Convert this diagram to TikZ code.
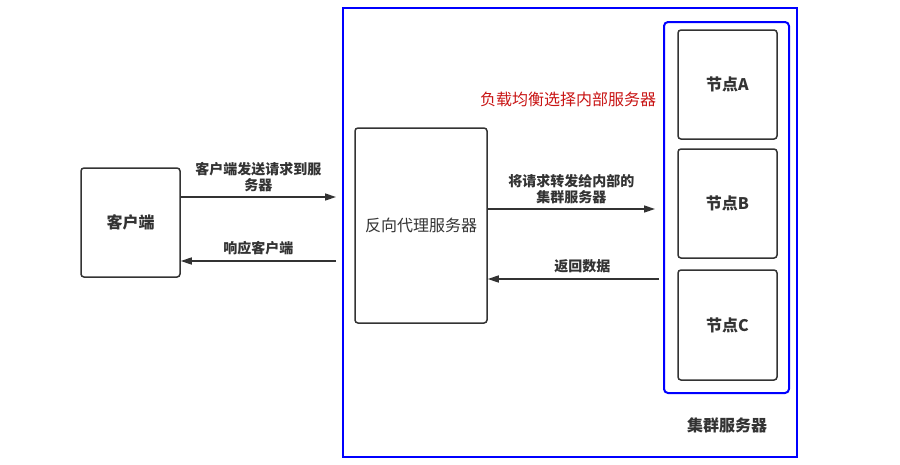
\documentclass[tikz,border=0pt]{standalone}
\usepackage{fontspec}
\setmainfont{Noto Sans CJK SC}
\usetikzlibrary{arrows.meta,positioning}
\definecolor{edge}{HTML}{333333}
\definecolor{lbred}{HTML}{C81414}

\begin{document}
\begin{tikzpicture}[
    x=1pt,y=-1pt,
    every node/.style={font=\fontsize{14pt}{16.5pt}\selectfont\bfseries,text=edge},
    box/.style={draw=edge,line width=1.5pt,rounded corners=3pt,inner sep=0pt,
                minimum width=99pt,align=center,
                font=\fontsize{16pt}{18pt}\selectfont\bfseries},
    frame/.style={draw=blue,line width=2pt,inner sep=0pt},
    arr/.style={-{Triangle[length=11pt,width=7pt]},draw=edge,line width=1.5pt},
  ]
    \useasboundingbox (0,0) rectangle (900,464);
    \node[frame,minimum width=454pt,minimum height=449pt] (outer) at (570,232.5) {};
    \node[frame,rounded corners=4pt,minimum width=125pt,minimum height=371pt] (inner) at (726.5,207.5) {};
    \node[box,minimum height=109pt] (client) at (130.5,222.5) {客户端};
    \node[box,minimum width=132pt,minimum height=195pt,
          font=\fontsize{16pt}{18pt}\selectfont] (proxy) at (421,225.5) {反向代理服务器};
    \node[box,minimum height=109pt] (nodeA) at (727.5,84.5)  {节点A};
    \node[box,minimum height=109pt] (nodeB) at (727.5,203.5) {节点B};
    \node[box,minimum height=110pt] (nodeC) at (727.5,325)   {节点C};
    \node[font=\fontsize{16pt}{18pt}\selectfont,text=lbred] (lb) at (568,99) {负载均衡选择内部服务器};
    \node[font=\fontsize{16pt}{18pt}\selectfont\bfseries] (title) at (727,425) {集群服务器};
    \draw[arr] ([yshift=25.5pt]client.east) coordinate (c1)
      -- node[above=1pt,align=center]{客户端发送请求到服\\务器} ([xshift=-6pt]outer.west |- c1);
    \draw[arr] ([xshift=-6pt]outer.west |- 0,261) coordinate (c2)
      -- node[above=2pt]{响应客户端} (client.east |- c2);
    \draw[arr] ([yshift=16.5pt]proxy.east) coordinate (p1)
      -- node[above=1pt,align=center]{将请求转发给内部的\\集群服务器} ([xshift=-8pt]inner.west |- p1);
    \draw[arr] ([xshift=-4pt]inner.west |- 0,279) coordinate (p2)
      -- node[above=2pt,xshift=9pt]{返回数据} (proxy.east |- p2);
  \end{tikzpicture}
\end{document}
